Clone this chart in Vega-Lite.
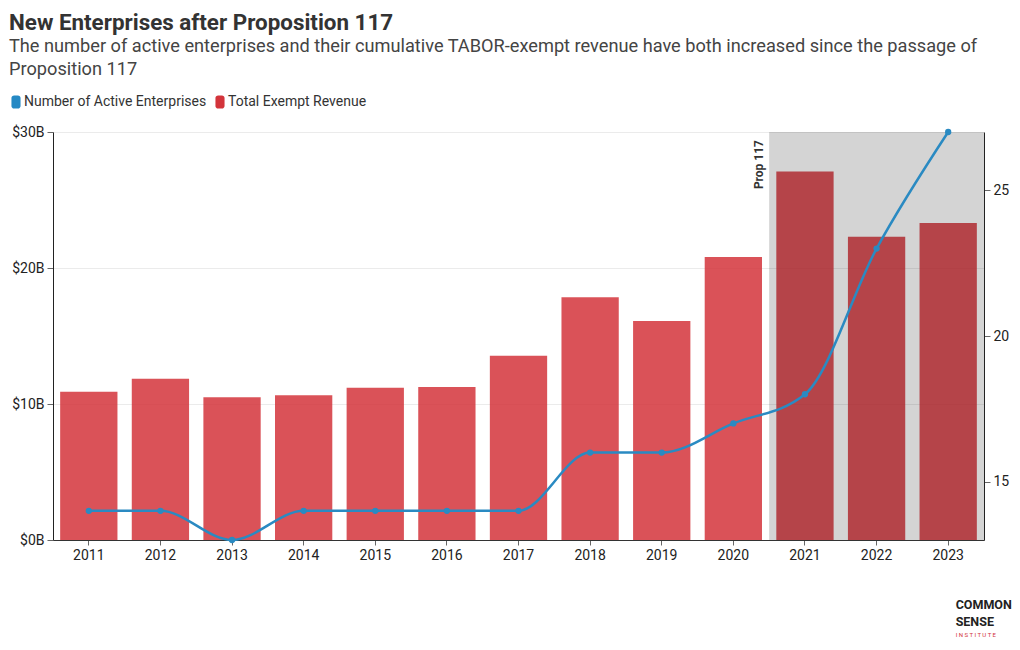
{
  "$schema": "https://vega.github.io/schema/vega-lite/v6.json",
  "width": 931,
  "height": 408,
  "autosize": "none",
  "padding": {"left": 53, "top": 132, "right": 36, "bottom": 110},
  "background": "white",
  "config": {
    "font": "Roboto",
    "view": {"stroke": null},
    "axis": {"labelFont": "Roboto", "labelFontSize": 14, "labelColor": "#222", "titleFont": "Roboto"},
    "legend": {"labelFont": "Roboto"}
  },
  "title": {
    "text": "New Enterprises after Proposition 117",
    "subtitle": ["The number of active enterprises and their cumulative TABOR-exempt revenue have both increased since the passage of", "Proposition 117"],
    "anchor": "start",
    "frame": "bounds",
    "fontSize": 22.4,
    "fontWeight": "bold",
    "color": "#333",
    "subtitleFontSize": 18.2,
    "subtitleColor": "#444",
    "subtitleFont": "Roboto",
    "subtitleLineHeight": 23,
    "subtitlePadding": 3,
    "offset": 17
  },
  "data": {
    "values": [
      {"year": "2011", "revenue": 10.9, "enterprises": 14},
      {"year": "2012", "revenue": 11.85, "enterprises": 14},
      {"year": "2013", "revenue": 10.5, "enterprises": 13},
      {"year": "2014", "revenue": 10.65, "enterprises": 14},
      {"year": "2015", "revenue": 11.2, "enterprises": 14},
      {"year": "2016", "revenue": 11.25, "enterprises": 14},
      {"year": "2017", "revenue": 13.55, "enterprises": 14},
      {"year": "2018", "revenue": 17.85, "enterprises": 16},
      {"year": "2019", "revenue": 16.1, "enterprises": 16},
      {"year": "2020", "revenue": 20.8, "enterprises": 17},
      {"year": "2021", "revenue": 27.1, "enterprises": 18},
      {"year": "2022", "revenue": 22.3, "enterprises": 23},
      {"year": "2023", "revenue": 23.3, "enterprises": 27}
    ]
  },
  "encoding": {
    "x": {
      "field": "year",
      "type": "ordinal",
      "scale": {"paddingInner": 0.2, "paddingOuter": 0.1},
      "axis": {"title": null, "labelAngle": 0, "domainColor": "#333", "tickColor": "#666", "tickSize": 5, "labelPadding": 3}
    }
  },
  "layer": [
    {
      "layer": [
        {
          "mark": {"type": "bar", "opacity": 0.85},
          "encoding": {
            "y": {
              "field": "revenue",
              "type": "quantitative",
              "scale": {"domain": [0, 30], "nice": false},
              "axis": {
                "title": null,
                "values": [0, 10, 20, 30],
                "labelExpr": "'$' + datum.value + 'B'",
                "grid": true,
                "gridColor": "#ebebeb",
                "domainColor": "#222",
                "tickColor": "#666",
                "tickSize": 6,
                "labelPadding": 3
              }
            },
            "color": {
              "datum": "Total Exempt Revenue",
              "type": "nominal",
              "scale": {"domain": ["Number of Active Enterprises", "Total Exempt Revenue"], "range": ["#2589c4", "#d3343b"]},
              "legend": {
                "title": null,
                "orient": "none",
                "legendX": -44,
                "legendY": -37,
                "direction": "horizontal",
                "symbolType": "M-0.3,-1 H0.3 A0.4,0.4 0 0 1 0.7,-0.6 V0.6 A0.4,0.4 0 0 1 0.3,1 H-0.3 A0.4,0.4 0 0 1 -0.7,0.6 V-0.6 A0.4,0.4 0 0 1 -0.3,-1 Z",
                "symbolSize": 169,
                "symbolOpacity": 1,
                "symbolStrokeWidth": 0,
                "labelFontSize": 14,
                "labelColor": "#333",
                "labelLimit": 0,
                "labelOffset": 1,
                "columnPadding": 6
              }
            }
          }
        },
        {
          "data": {"values": [{"start": "2021"}]},
          "mark": {"type": "rect", "color": "#000", "opacity": 0.17},
          "encoding": {
            "x": {"field": "start", "type": "ordinal", "bandPosition": -0.125},
            "x2": {"value": "width"}
          }
        },
        {
          "data": {"values": [{"start": "2021", "label": "Prop 117", "top": 30}]},
          "mark": {"type": "text", "angle": 270, "align": "right", "baseline": "bottom", "fontWeight": "bold", "fontSize": 12, "color": "#333", "dx": -8, "dy": -3},
          "encoding": {
            "x": {"field": "start", "type": "ordinal", "bandPosition": -0.125},
            "y": {"field": "top", "type": "quantitative"},
            "text": {"field": "label"}
          }
        },
        {
          "data": {"values": [
            {"pos": "2023", "line": "COMMON", "lv": -4.75},
            {"pos": "2023", "line": "SENSE", "lv": -6.0}
          ]},
          "mark": {"type": "text", "align": "left", "baseline": "middle", "font": "Roboto", "fontWeight": "bold", "fontSize": 12.5, "color": "#222", "clip": false},
          "encoding": {
            "x": {"field": "pos", "type": "ordinal", "bandPosition": 0.63},
            "y": {"field": "lv", "type": "quantitative"},
            "text": {"field": "line"}
          }
        },
        {
          "data": {"values": [{"pos": "2023", "line": "I N S T I T U T E", "lv": -6.95}]},
          "mark": {"type": "text", "align": "left", "baseline": "middle", "font": "Roboto", "fontSize": 6, "color": "#d3343b", "clip": false},
          "encoding": {
            "x": {"field": "pos", "type": "ordinal", "bandPosition": 0.63},
            "y": {"field": "lv", "type": "quantitative"},
            "text": {"field": "line"}
          }
        }
      ]
    },
    {
      "mark": {"type": "line", "interpolate": "monotone", "color": "#2a8ac2", "strokeWidth": 2.5, "point": {"filled": true, "size": 40, "color": "#2a8ac2"}},
      "encoding": {
        "y": {
          "field": "enterprises",
          "type": "quantitative",
          "scale": {"domain": [13, 27], "nice": false},
          "axis": {
            "title": null,
            "orient": "right",
            "values": [15, 20, 25],
            "grid": false,
            "domainColor": "#222",
            "tickColor": "#666",
            "tickSize": 6,
            "labelPadding": 3
          }
        }
      }
    }
  ],
  "resolve": {"scale": {"y": "independent"}}
}
